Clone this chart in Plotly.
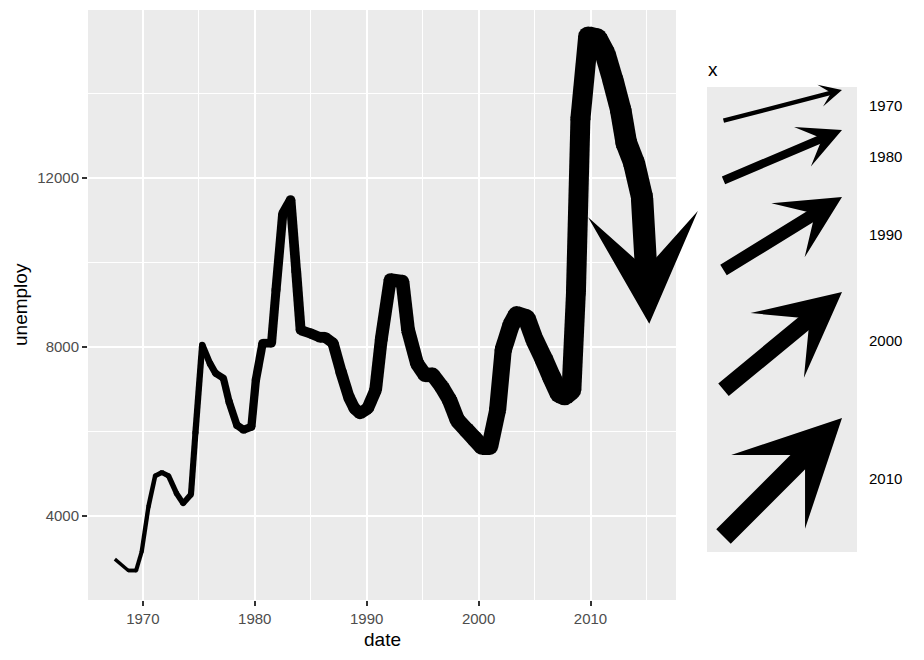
import plotly.graph_objects as go

# ---- data ----
dates = [1967.5, 1968.7, 1969.4, 1969.9, 1970.5, 1971.1, 1971.7, 1972.3, 1973.0, 1973.6,
         1974.3, 1974.7, 1975.3, 1976.0, 1976.5, 1977.2, 1977.7, 1978.4, 1979.0, 1979.7,
         1980.1, 1980.7, 1981.5, 1981.9, 1982.5, 1983.2, 1983.7, 1984.1, 1985.0, 1985.8,
         1986.3, 1987.0, 1987.7, 1988.4, 1988.9, 1989.4, 1990.1, 1990.8, 1991.3, 1992.1,
         1993.2, 1993.7, 1994.5, 1995.2, 1995.9, 1996.7, 1997.4, 1998.1, 1998.9, 1999.6,
         2000.3, 2001.0, 2001.7, 2002.2, 2002.9, 2003.4, 2004.3, 2005.0, 2005.8, 2006.5,
         2007.2, 2007.7, 2008.3, 2008.7, 2009.1, 2009.8, 2010.6, 2011.3, 2012.0, 2012.7,
         2013.2, 2013.9, 2014.6, 2015.25]
unemploy = [2980, 2710, 2710, 3160, 4220, 4950, 5030, 4950, 4540, 4300,
            4510, 5970, 8050, 7610, 7380, 7260, 6710, 6150, 6040, 6110,
            7220, 8090, 8090, 9350, 11150, 11480, 9800, 8400, 8320, 8230,
            8230, 8090, 7420, 6820, 6550, 6430, 6550, 6980, 8170, 9590,
            9550, 8400, 7610, 7340, 7340, 7060, 6750, 6270, 6040, 5840,
            5640, 5640, 6510, 7930, 8520, 8760, 8680, 8170, 7730, 7300,
            6900, 6850, 6980, 9300, 13400, 15350, 15300, 14950, 14320, 13610,
            12830, 12350, 11550, 8549]
legend_breaks = [1970, 1980, 1990, 2000, 2010]
x_ticks = [1970, 1980, 1990, 2000, 2010]
y_ticks = [4000, 8000, 12000]

# ---- styling ----
W_MIN, W_MAX = 3.4, 22.6
dmin, dmax = min(dates), max(dates)


def width_of(d):
    return W_MIN + (W_MAX - W_MIN) * (d - dmin) / (dmax - dmin)


FONT = "Liberation Sans, Arial, sans-serif"
# page has an 8px body margin; plot area in the screenshot: 88..676 x 10..600
OFF = 8
FIG_W, FIG_H = 924 - OFF, 660 - OFF
PANEL_L, PANEL_R, PANEL_T, PANEL_B = 88, 676, 10, 600


def px_x(px):
    return (px - PANEL_L) / (PANEL_R - PANEL_L)


def px_y(py):
    return (PANEL_B - py) / (PANEL_B - PANEL_T)


fig = go.Figure()

# variable-width line: one segment per trace
for i in range(len(dates) - 2):
    fig.add_trace(go.Scatter(
        x=[dates[i], dates[i + 1]], y=[unemploy[i], unemploy[i + 1]],
        mode="lines", line=dict(color="black", width=width_of(dates[i])),
        showlegend=False, hoverinfo="skip"))

# rounded joints
fig.add_trace(go.Scatter(
    x=dates[1:-1], y=unemploy[1:-1], mode="markers",
    marker=dict(color="black", opacity=1, size=[width_of(d) for d in dates[:-2]],
                line=dict(width=0)),
    showlegend=False, hoverinfo="skip"))

annotations = []
# last segment with arrow head
annotations.append(dict(
    x=dates[-1], y=unemploy[-1], xref="x", yref="y",
    ax=dates[-2], ay=unemploy[-2], axref="x", ayref="y",
    text="", showarrow=True, arrowhead=3, arrowsize=0.82,
    arrowwidth=width_of(dates[-2]), arrowcolor="black"))

# ---- legend (drawn manually) ----
shapes = [dict(type="rect", xref="paper", yref="paper",
               x0=px_x(707), x1=px_x(857), y0=px_y(552), y1=px_y(87),
               fillcolor="#EBEBEB", line=dict(width=0), layer="below")]

leg_tips = [90, 130, 197, 292, 418]
leg_tails = [121, 181, 271, 391, 538]
leg_label_y = [105, 156, 234, 341, 478]
for b, ty, ly, lab_y in zip(legend_breaks, leg_tips, leg_tails, leg_label_y):
    annotations.append(dict(
        x=px_x(842), y=px_y(ty), xref="paper", yref="paper",
        ax=-120, ay=ly - ty, axref="pixel", ayref="pixel",
        text="", showarrow=True, arrowhead=3, arrowsize=0.85,
        arrowwidth=width_of(b), arrowcolor="black"))
    annotations.append(dict(
        x=px_x(867), y=px_y(lab_y), xref="paper", yref="paper",
        text=str(b), showarrow=False, xanchor="left", yanchor="middle",
        font=dict(family=FONT, size=15, color="black")))

annotations.append(dict(
    x=px_x(706), y=px_y(70), xref="paper", yref="paper",
    text="x", showarrow=False, xanchor="left", yanchor="middle",
    font=dict(family=FONT, size=19, color="black")))

# axis titles
annotations.append(dict(
    x=0.5, y=px_y(639), xref="paper", yref="paper",
    text="date", showarrow=False, xanchor="center", yanchor="middle",
    font=dict(family=FONT, size=19, color="black")))
annotations.append(dict(
    x=px_x(20), y=0.5, xref="paper", yref="paper",
    text="unemploy", showarrow=False, xanchor="center", yanchor="middle",
    textangle=-90, font=dict(family=FONT, size=19, color="black")))

fig.update_layout(
    width=FIG_W, height=FIG_H,
    margin=dict(l=PANEL_L - OFF, r=FIG_W - (PANEL_R - OFF), t=PANEL_T - OFF,
                b=FIG_H - (PANEL_B - OFF), autoexpand=False),
    paper_bgcolor="white", plot_bgcolor="#EBEBEB",
    font=dict(family=FONT, color="black"),
    shapes=shapes, annotations=annotations,
    showlegend=False,
)
fig.update_xaxes(
    range=[1965.1, 2017.64], tickvals=x_ticks, ticktext=[str(v) for v in x_ticks],
    showgrid=True, gridcolor="white", gridwidth=1.9, zeroline=False,
    ticks="outside", ticklen=5, tickcolor="#333333", tickwidth=1.5,
    tickfont=dict(family=FONT, size=15, color="#4D4D4D"),
    minor=dict(tickvals=[1975, 1985, 1995, 2005, 2015], showgrid=True,
               gridcolor="white", gridwidth=0.95, ticks=""),
    showline=False, automargin=False,
)
fig.update_yaxes(
    range=[2012, 15976], tickvals=y_ticks, ticktext=[str(v) for v in y_ticks],
    showgrid=True, gridcolor="white", gridwidth=1.9, zeroline=False,
    ticks="outside", ticklen=5, tickcolor="#333333", tickwidth=1.5,
    tickfont=dict(family=FONT, size=15, color="#4D4D4D"),
    minor=dict(tickvals=[6000, 10000, 14000], showgrid=True,
               gridcolor="white", gridwidth=0.95, ticks=""),
    showline=False, automargin=False,
)

fig.write_html("out.html")
